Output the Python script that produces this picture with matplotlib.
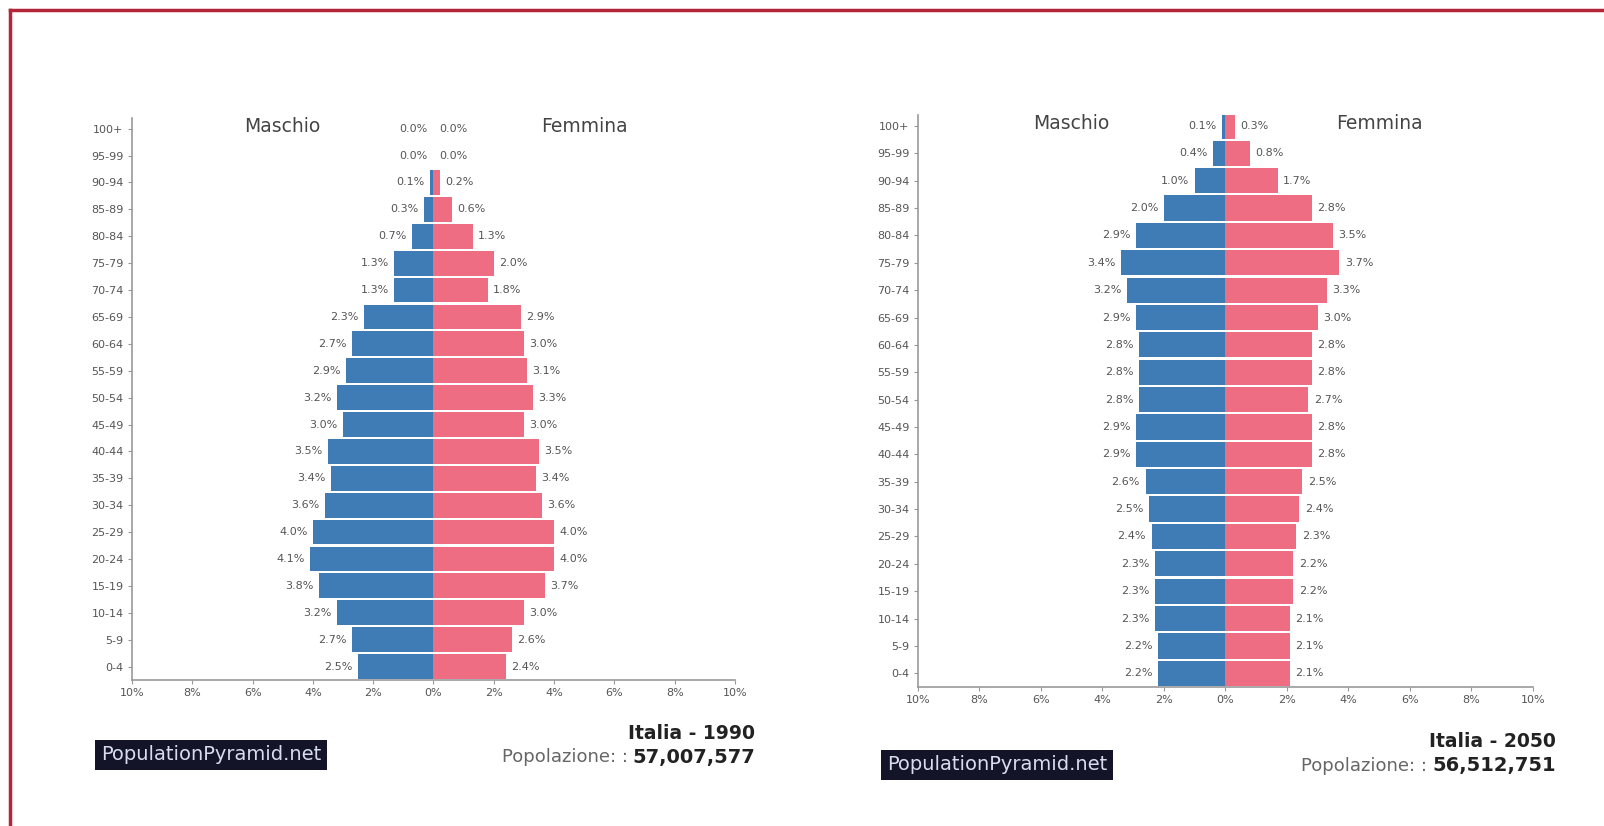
import matplotlib
matplotlib.use("Agg")
import matplotlib.pyplot as plt
from matplotlib.lines import Line2D

# age groups, youngest first
ages = ["0-4", "5-9", "10-14", "15-19", "20-24", "25-29", "30-34", "35-39",
        "40-44", "45-49", "50-54", "55-59", "60-64", "65-69", "70-74",
        "75-79", "80-84", "85-89", "90-94", "95-99", "100+"]

# share of total population (%)
male_1990 = [2.5, 2.7, 3.2, 3.8, 4.1, 4.0, 3.6, 3.4, 3.5, 3.0, 3.2,
             2.9, 2.7, 2.3, 1.3, 1.3, 0.7, 0.3, 0.1, 0.0, 0.0]
female_1990 = [2.4, 2.6, 3.0, 3.7, 4.0, 4.0, 3.6, 3.4, 3.5, 3.0, 3.3,
               3.1, 3.0, 2.9, 1.8, 2.0, 1.3, 0.6, 0.2, 0.0, 0.0]
male_2050 = [2.2, 2.2, 2.3, 2.3, 2.3, 2.4, 2.5, 2.6, 2.9, 2.9, 2.8,
             2.8, 2.8, 2.9, 3.2, 3.4, 2.9, 2.0, 1.0, 0.4, 0.1]
female_2050 = [2.1, 2.1, 2.1, 2.2, 2.2, 2.3, 2.4, 2.5, 2.8, 2.8, 2.7,
               2.8, 2.8, 3.0, 3.3, 3.7, 3.5, 2.8, 1.7, 0.8, 0.3]

xticks = [-10, -8, -6, -4, -2, 0, 2, 4, 6, 8, 10]
xtick_labels = ["10%", "8%", "6%", "4%", "2%", "0%", "2%", "4%", "6%", "8%", "10%"]

BLUE = "#3f7cb6"
PINK = "#ee6d83"
GREY = "#555555"
AXIS = "#999999"

fig = plt.figure(figsize=(16.04, 8.26), dpi=100)


def pyramid(rect, male, female, title, pop, box_xy, title_xy):
    ax = fig.add_axes(rect)
    y = range(len(ages))
    ax.barh(y, [-m for m in male], height=0.92, color=BLUE, linewidth=0)
    ax.barh(y, female, height=0.92, color=PINK, linewidth=0)
    for i, (m, f) in enumerate(zip(male, female)):
        ax.annotate(f"{m:.1f}%", (-m, i), xytext=(-4, 0), textcoords="offset points",
                    ha="right", va="center", fontsize=8, color=GREY)
        ax.annotate(f"{f:.1f}%", (f, i), xytext=(4, 0), textcoords="offset points",
                    ha="left", va="center", fontsize=8, color=GREY)
    ax.set_xlim(-10, 10)
    ax.set_ylim(-0.5, 20.4)
    ax.set_yticks(list(y))
    ax.set_yticklabels(ages, fontsize=8, color=GREY)
    ax.set_xticks(xticks)
    ax.set_xticklabels(xtick_labels, fontsize=8, color=GREY)
    ax.tick_params(length=3, width=0.8, color=AXIS, pad=3)
    for s in ("top", "right"):
        ax.spines[s].set_visible(False)
    for s in ("left", "bottom"):
        ax.spines[s].set_color(AXIS)
        ax.spines[s].set_linewidth(1.2)
    ax.text(-5, 20.1, "Maschio", ha="center", va="center", fontsize=13.5, color="#444444")
    ax.text(5, 20.1, "Femmina", ha="center", va="center", fontsize=13.5, color="#444444")

    # footer: site badge and country/population caption
    fig.text(box_xy[0], box_xy[1], "PopulationPyramid.net", fontsize=14,
             color="#d8dcf0", ha="left", va="center",
             bbox=dict(boxstyle="square,pad=0.3", facecolor="#141428", edgecolor="none"))
    tx, ty = title_xy
    fig.text(tx, ty, title, ha="right", va="center", fontsize=13.5,
             fontweight="bold", color="#222222")
    num = fig.text(tx, ty - 0.029, pop, ha="right", va="center", fontsize=14,
                   fontweight="bold", color="#222222")
    fig.canvas.draw()
    bb = num.get_window_extent().transformed(fig.transFigure.inverted())
    fig.text(bb.x0 - 0.003, ty - 0.029, "Popolazione: :", ha="right", va="center",
             fontsize=13, color="#666666")
    return ax


pyramid([0.0823, 0.1768, 0.3759, 0.6804], male_1990, female_1990,
        "Italia - 1990", "57,007,577", (0.063, 0.086), (0.471, 0.112))
pyramid([0.5723, 0.1683, 0.3834, 0.6925], male_2050, female_2050,
        "Italia - 2050", "56,512,751", (0.553, 0.074), (0.970, 0.102))

# red frame along the top and left edges
fig.add_artist(Line2D([0.006, 1.0], [0.988, 0.988], color="#b3263a", linewidth=2.5,
                      transform=fig.transFigure))
fig.add_artist(Line2D([0.0065, 0.0065], [0.0, 0.988], color="#b3263a", linewidth=2.5,
                      transform=fig.transFigure))

fig.savefig("out.png", dpi=100, facecolor="white")
